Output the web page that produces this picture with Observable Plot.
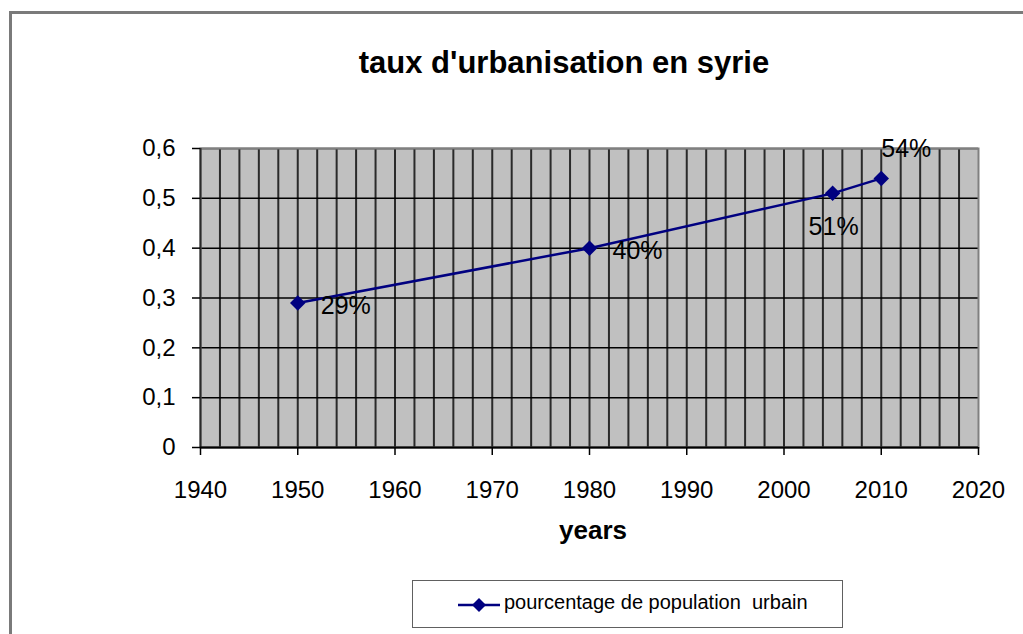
<!DOCTYPE html>
<html>
<head>
<meta charset="utf-8">
<script src="https://cdn.jsdelivr.net/npm/d3@7"></script>
<script src="https://cdn.jsdelivr.net/npm/@observablehq/plot@0.6"></script>
<style>
  html, body { margin: 0; padding: 0; background: #fff; }
  #wrap { position: relative; width: 1023px; height: 634px; overflow: hidden; font-family: 'Liberation Sans', Arial, sans-serif; }
  #border { position: absolute; left: 9px; top: 11px; width: 1100px; height: 700px; border-left: 3px solid #7a7a7a; border-top: 3px solid #7a7a7a; }
  #chart { position: absolute; left: 0; top: 0; }
  #title { position: absolute; left: 264px; width: 600px; top: 47px; text-align: center; font-weight: bold; font-size: 31px; line-height: 31px; color: #000; white-space: nowrap; }
  #xlabel { position: absolute; left: 493px; width: 200px; top: 517px; text-align: center; font-weight: bold; font-size: 26px; line-height: 26px; color: #000; }
  #legend { position: absolute; left: 412px; top: 580px; width: 429px; height: 46px; border: 1.5px solid #606060; background: #fff; }
  #legend svg { position: absolute; left: 44px; top: 14px; }
  #legend span { position: absolute; left: 91px; top: 11px; font-size: 20px; line-height: 20px; white-space: pre; color: #000; }
</style>
</head>
<body>
<div id="wrap">
  <div id="border"></div>
  <div id="chart"></div>
  <div id="title">taux d'urbanisation en syrie</div>
  <div id="xlabel">years</div>
  <div id="legend">
    <svg width="44" height="20" viewBox="0 0 44 20">
      <line x1="1" y1="10" x2="43" y2="10" stroke="#000080" stroke-width="2.5"></line>
      <path d="M22,3 L29,10 L22,17 L15,10 Z" fill="#000080"></path>
    </svg>
    <span id="legendText"></span>
  </div>
</div>
<script>
// Data
const years = [1950, 1980, 2005, 2010];
const values = [0.29, 0.40, 0.51, 0.54];
const pointLabels = ["29%", "40%", "51%", "54%"];
const seriesName = "pourcentage de population  urbain";

// Axis ticks
const xTicks = [1940, 1950, 1960, 1970, 1980, 1990, 2000, 2010, 2020];
const xGrid = [1942, 1944, 1946, 1948, 1950, 1952, 1954, 1956, 1958, 1960, 1962, 1964, 1966, 1968, 1970, 1972, 1974, 1976, 1978, 1980, 1982, 1984, 1986, 1988, 1990, 1992, 1994, 1996, 1998, 2000, 2002, 2004, 2006, 2008, 2010, 2012, 2014, 2016, 2018];
const yTicks = [0, 0.1, 0.2, 0.3, 0.4, 0.5, 0.6];

const data = years.map((year, i) => ({year, value: values[i], label: pointLabels[i]}));

document.getElementById("legendText").textContent = seriesName;

const fmtY = d => String(d).replace(".", ",");

const chart = Plot.plot({
  width: 1023,
  height: 634,
  marginLeft: 200,
  marginRight: 45,
  marginTop: 148,
  marginBottom: 187,
  x: {domain: [1940, 2020]},
  y: {domain: [0, 0.6]},
  style: {fontFamily: "'Liberation Sans', Arial, sans-serif", fontSize: "24px", background: "transparent", color: "#000", overflow: "visible"},
  marks: [
    Plot.frame({fill: "#c0c0c0"}),
    Plot.gridX({ticks: xGrid, stroke: "#2a2a2a", strokeOpacity: 1, strokeWidth: 2}),
    Plot.gridY({ticks: yTicks, stroke: "#000", strokeOpacity: 1, strokeWidth: 1.5}),
    Plot.frame({stroke: "#808080", strokeWidth: 2}),
    Plot.ruleX([1940], {stroke: "#2a2a2a", strokeWidth: 2}),
    Plot.ruleY([0], {stroke: "#000", strokeWidth: 2}),
    Plot.axisX({ticks: xTicks, tickFormat: d => String(d), tickSize: 8, tickPadding: 25, fontSize: 24, label: null, strokeWidth: 1.5}),
    Plot.axisY({ticks: yTicks, tickFormat: fmtY, tickSize: 8, tickPadding: 17, fontSize: 24, label: null, strokeWidth: 1.5}),
    Plot.line(data, {x: "year", y: "value", stroke: "#000080", strokeWidth: 2.5}),
    Plot.dot(data, {x: "year", y: "value", symbol: "diamond2", r: 7, fill: "#000080", stroke: "none"}),
    Plot.text(data, {filter: d => d.year <= 1980, x: "year", y: "value", text: "label", textAnchor: "start", dx: 23, dy: 3, fontSize: 25, fill: "#000"}),
    Plot.text(data, {filter: d => d.year === 2005, x: "year", y: "value", text: "label", textAnchor: "middle", dx: 1, dy: 34, fontSize: 25, fill: "#000"}),
    Plot.text(data, {filter: d => d.year === 2010, x: "year", y: "value", text: "label", textAnchor: "start", dx: 0, dy: -29, fontSize: 25, fill: "#000"})
  ]
});
document.getElementById("chart").appendChild(chart);
</script>
</body>
</html>
